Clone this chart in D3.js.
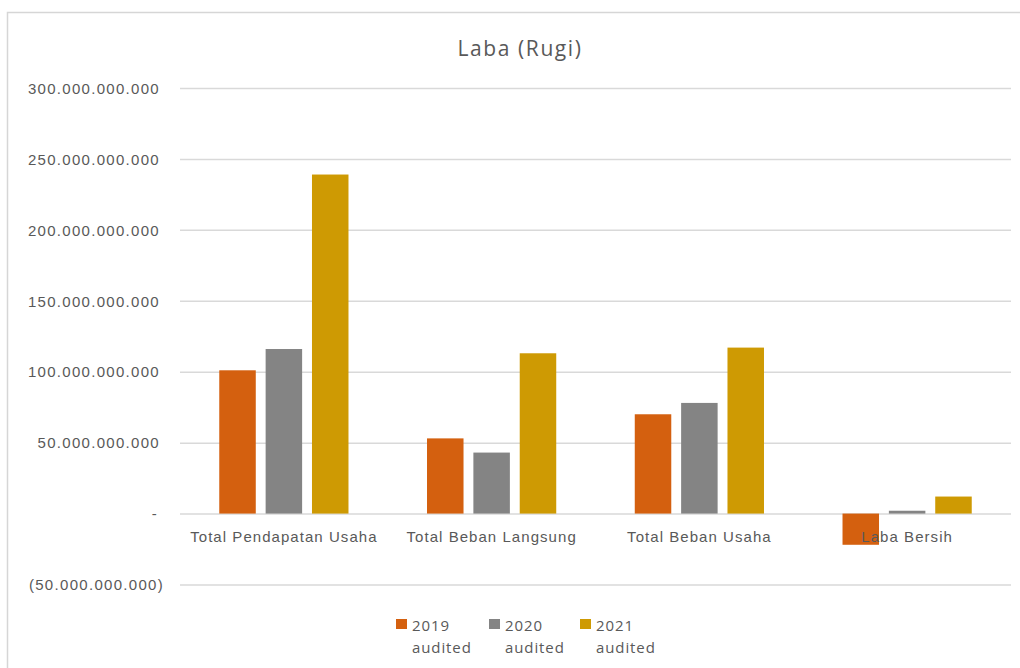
<!DOCTYPE html>
<html>
<head>
<meta charset="utf-8">
<script src="https://cdn.jsdelivr.net/npm/d3@7"></script>
<style>
  html, body { margin: 0; padding: 0; background: #fff; }
  svg { display: block; font-family: "Open Sans", sans-serif; }
</style>
</head>
<body>
<svg id="chart" width="1020" height="668"></svg>
<script>
// Categories and series (values in rupiah)
const categories = ["Total Pendapatan Usaha", "Total Beban Langsung", "Total Beban Usaha", "Laba Bersih"];
const seriesNames = ["2019", "2020", "2021"];
const seriesSub = ["audited", "audited", "audited"];
const values2019 = [101e9, 53e9, 70e9, -22e9];
const values2020 = [116e9, 43e9, 78e9, 2e9];
const values2021 = [239e9, 113e9, 117e9, 12e9];
const tickValues = [-50e9, 0, 50e9, 100e9, 150e9, 200e9, 250e9, 300e9];
const colors = ["#D4600F", "#848484", "#CE9A03"];
const title = "Laba (Rugi)";

const seriesValues = [values2019, values2020, values2021];

const svg = d3.select("#chart");

// chart frame
svg.append("path")
  .attr("d", "M7.5,668 L7.5,12.5 L1020,12.5")
  .attr("fill", "none")
  .attr("stroke", "#d6d6d6")
  .attr("stroke-width", 1.5);

const plot = { left: 180, right: 1011, top: 88, bottom: 584.5 };

const y = d3.scaleLinear()
  .domain([-50e9, 300e9])
  .range([plot.bottom, plot.top]);

const x0 = d3.scaleBand()
  .domain(categories)
  .range([plot.left, plot.right])
  .paddingInner(0.378)
  .paddingOuter(0.189);

const x1 = d3.scaleBand()
  .domain(seriesNames)
  .range([0, x0.bandwidth()])
  .paddingInner(0.2126)
  .paddingOuter(0);

// gridlines
const grid = svg.append("g")
  .attr("transform", `translate(${plot.left},0)`)
  .call(d3.axisLeft(y).tickValues(tickValues).tickSize(-(plot.right - plot.left)).tickFormat(""));
grid.select(".domain").remove();
grid.selectAll(".tick line").attr("stroke", "#d9d9d9").attr("stroke-width", 1.5);

// y tick labels in accounting style
function fmt(v) {
  if (v === 0) return "-";
  const s = d3.format(",")(Math.abs(v)).replace(/,/g, ".");
  return v < 0 ? "(" + s + ")" : s;
}
const yAxis = svg.append("g")
  .attr("transform", `translate(${plot.left},0)`)
  .call(d3.axisLeft(y).tickValues(tickValues).tickSize(0).tickPadding(20).tickFormat(fmt));
yAxis.select(".domain").remove();
yAxis.selectAll(".tick text")
  .attr("fill", "#595959")
  .style("font-size", "15px")
  .style("letter-spacing", "1.3px")
  .attr("dx", d => d < 0 ? 4 : (d === 0 ? -2 : 0))
  .attr("dy", "0.35em");

// bars
const groups = svg.append("g").selectAll("g")
  .data(categories)
  .join("g")
  .attr("transform", c => `translate(${x0(c)},0)`);

groups.selectAll("rect")
  .data((c, i) => seriesNames.map((s, k) => ({ s, k, v: seriesValues[k][i] })))
  .join("rect")
  .attr("x", d => x1(d.s))
  .attr("width", x1.bandwidth())
  .attr("y", d => y(Math.max(0, d.v)))
  .attr("height", d => Math.abs(y(d.v) - y(0)))
  .attr("fill", d => colors[d.k]);

// category labels
const xAxis = svg.append("g")
  .attr("transform", `translate(0,${y(0)})`)
  .call(d3.axisBottom(x0).tickSize(0).tickPadding(18));
xAxis.select(".domain").remove();
xAxis.selectAll(".tick text")
  .attr("fill", "#595959")
  .style("font-size", "15px")
  .style("letter-spacing", "1.05px");

// title
svg.append("text")
  .attr("x", 520)
  .attr("y", 56)
  .attr("text-anchor", "middle")
  .attr("fill", "#595959")
  .style("font-size", "21px")
  .style("letter-spacing", "1.6px")
  .text(title);

// legend
const legendX = [396, 489, 580];
const legend = svg.append("g").selectAll("g")
  .data(seriesNames)
  .join("g")
  .attr("transform", (d, i) => `translate(${legendX[i]},619)`);
legend.append("rect")
  .attr("width", 11).attr("height", 10)
  .attr("fill", (d, i) => colors[i]);
legend.append("text")
  .attr("x", 16).attr("y", 12)
  .attr("fill", "#595959")
  .style("font-size", "15px")
  .style("letter-spacing", "0.9px")
  .text(d => d);
legend.append("text")
  .attr("x", 16).attr("y", 34)
  .attr("fill", "#595959")
  .style("font-size", "15px")
  .style("letter-spacing", "0.9px")
  .text((d, i) => seriesSub[i]);
</script>
</body>
</html>
